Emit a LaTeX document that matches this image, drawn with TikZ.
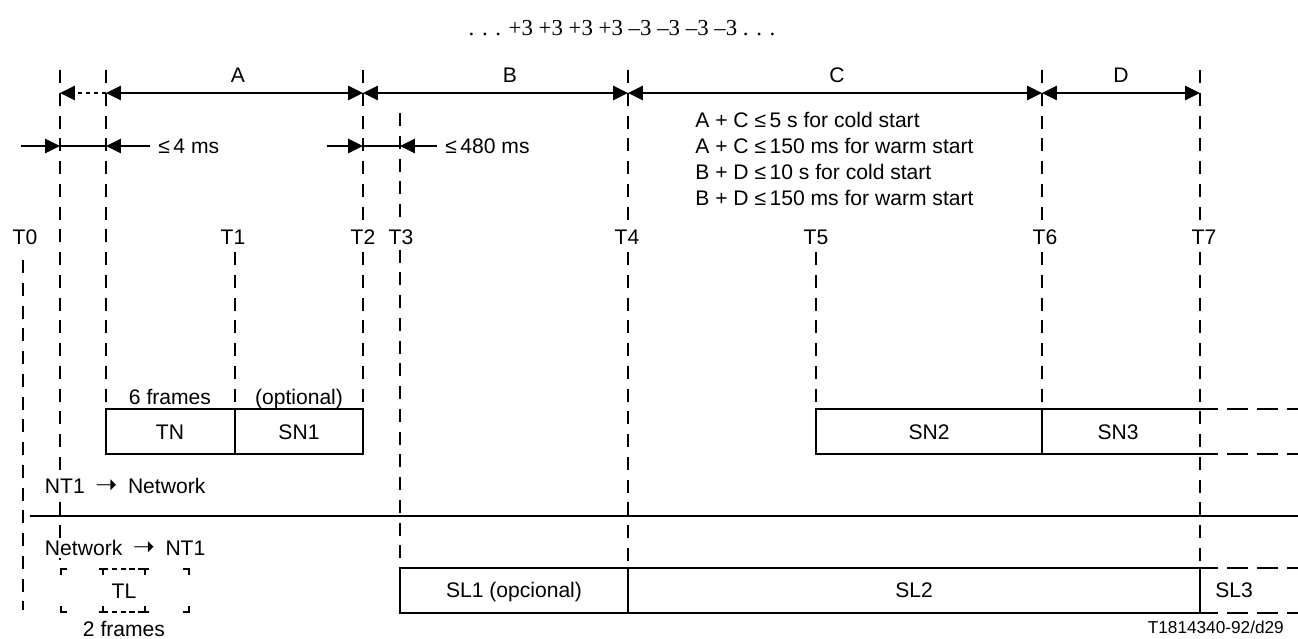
\documentclass[tikz,border=0pt]{standalone}
\usepackage{fontspec}
\setmainfont{Liberation Sans}
\newfontfamily\timesfont{Liberation Serif}
\newfontfamily\arrowfont{DejaVu Sans}
\usetikzlibrary{arrows.meta}
\newcommand{\dirarrow}{\enspace{\arrowfont\fontsize{15pt}{15pt}\selectfont ➝}\enspace}
\tikzset{
  tline/.style={line width=1.3pt,dash pattern=on 7.4pt off 5.55pt},
  dim/.style={line width=1.3pt},
  onehead/.style={dim,-{Triangle[length=8.5pt,width=8pt]}},
  twohead/.style={dim,{Triangle[length=8.5pt,width=8pt]}-{Triangle[length=8.5pt,width=8pt]}},
  boxline/.style={line width=0.7pt},
  openend/.style={line width=0.7pt,dash pattern=on 12pt off 5pt},
  tlabel/.style={fill=white,inner sep=1.5pt}
}
\begin{document}
\begin{tikzpicture}[x=0.2mm,y=-0.2mm,font=\fontsize{12pt}{14.7pt}\selectfont]
  \useasboundingbox (0,0) rectangle (1298,639);
  % line code
  \node (pat) at (622,28) {\timesfont\fontsize{13pt}{15pt}\selectfont . . . +3 +3 +3 +3 –3 –3 –3 –3 . . .};
  % time marks
  \foreach \x/\a/\b in {23/260/610,60/70/560,106/70/409,235/252/409,363/70/409,
      400/113/568,628/70/568,816/252/409,1042/70/409,1200/70/568}
    \draw[tline] (\x,\a) -- (\x,\b);
  \foreach \n/\x in {0/25,1/233,2/363,3/401,4/627,5/816,6/1045,7/1204}
    \node[tlabel] (t\n) at (\x,237) {T\n};
  % intervals A..D
  \foreach \n/\x in {0/60,1/106,2/363,3/628,4/1042,5/1200}
    \coordinate (p\n) at (\x,93);
  \draw[onehead,dash pattern=on 2.5pt off 2pt] (p1) -- (p0);
  \draw[twohead] (p1) -- (p2);
  \draw[twohead] (p2) -- (p3);
  \draw[twohead] (p3) -- (p4);
  \draw[twohead] (p4) -- (p5);
  \node (lA) at (238,75) {A};
  \node (lB) at (510,75) {B};
  \node (lC) at (837,75) {C};
  \node (lD) at (1121,75) {D};
  % short gaps
  \coordinate (q0) at (21,146); \coordinate (q1) at (60,146);
  \coordinate (q2) at (106,146); \coordinate (q3) at (150,146);
  \draw[onehead] (q0) -- (q1); \draw[dim] (q1) -- (q2); \draw[onehead] (q3) -- (q2);
  \node[right,inner sep=0pt] (d4) at (158,146) {≤\,4 ms};
  \coordinate (r0) at (327,146); \coordinate (r1) at (363,146);
  \coordinate (r2) at (400,146); \coordinate (r3) at (437,146);
  \draw[onehead] (r0) -- (r1); \draw[dim] (r1) -- (r2); \draw[onehead] (r3) -- (r2);
  \node[right,inner sep=0pt] (d480) at (445,146) {≤\,480 ms};
  \node[anchor=north west,align=left,inner sep=0pt] (cond) at (695,112)
    {A + C ≤\,5 s for cold start\\A + C ≤\,150 ms for warm start\\
     B + D ≤\,10 s for cold start\\B + D ≤\,150 ms for warm start};
  % NT1 -> network
  \draw[boxline] (106,409) rectangle (363,454) (235,409) -- (235,454);
  \node[anchor=base] (fr6) at (170,404) {6 frames};
  \node[anchor=base] (opt) at (299,404) {(optional)};
  \node[anchor=base] (tn) at (170,439) {TN};
  \node[anchor=base] (sn1) at (299,439) {SN1};
  \draw[boxline] (1218,409) -- (816,409) -- (816,454) -- (1218,454) (1042,409) -- (1042,454);
  \draw[openend] (1227,409) -- (1298,409) (1227,454) -- (1298,454);
  \node[anchor=base] (sn2) at (929,439) {SN2};
  \node[anchor=base] (sn3) at (1118,439) {SN3};
  \node[right,fill=white,inner sep=1.5pt] (up) at (42,486) {NT1\dirarrow Network};
  \draw[line width=1.2pt] (30,516) -- (1298,516);
  % network -> NT1
  \node[right,fill=white,inner sep=1.5pt] (down) at (42,548) {Network\dirarrow NT1};
  \foreach \x/\s in {61/6,189/-6}{
    \draw[boxline] (\x,575) -- (\x,569) -- ({\x+\s},569);
    \draw[boxline] (\x,606) -- (\x,612) -- ({\x+\s},612);}
  \foreach \x in {103,145}{
    \draw[boxline] ({\x-4},569) -- ({\x+4},569) (\x,569) -- (\x,575);
    \draw[boxline] ({\x-4},612) -- ({\x+4},612) (\x,612) -- (\x,606);}
  \draw[boxline,dash pattern=on 3pt off 2pt] (103,569) -- (145,569) (103,612) -- (145,612);
  \node[anchor=base] (tl) at (124,598) {TL};
  \node[anchor=base] (fr2) at (124,636) {2 frames};
  \draw[boxline] (1218,568) -- (400,568) -- (400,613) -- (1218,613)
    (628,568) -- (628,613) (1200,568) -- (1200,613);
  \draw[openend] (1227,568) -- (1298,568) (1227,613) -- (1298,613);
  \node[anchor=base] (sl1) at (514,597) {SL1 (opcional)};
  \node[anchor=base] (sl2) at (914,597) {SL2};
  \node[anchor=base] (sl3) at (1234,597) {SL3};
  \node[anchor=east,font=\fontsize{9.8pt}{12pt}\selectfont] (id) at (1290,627) {T1814340-92/d29};
\end{tikzpicture}
\end{document}
